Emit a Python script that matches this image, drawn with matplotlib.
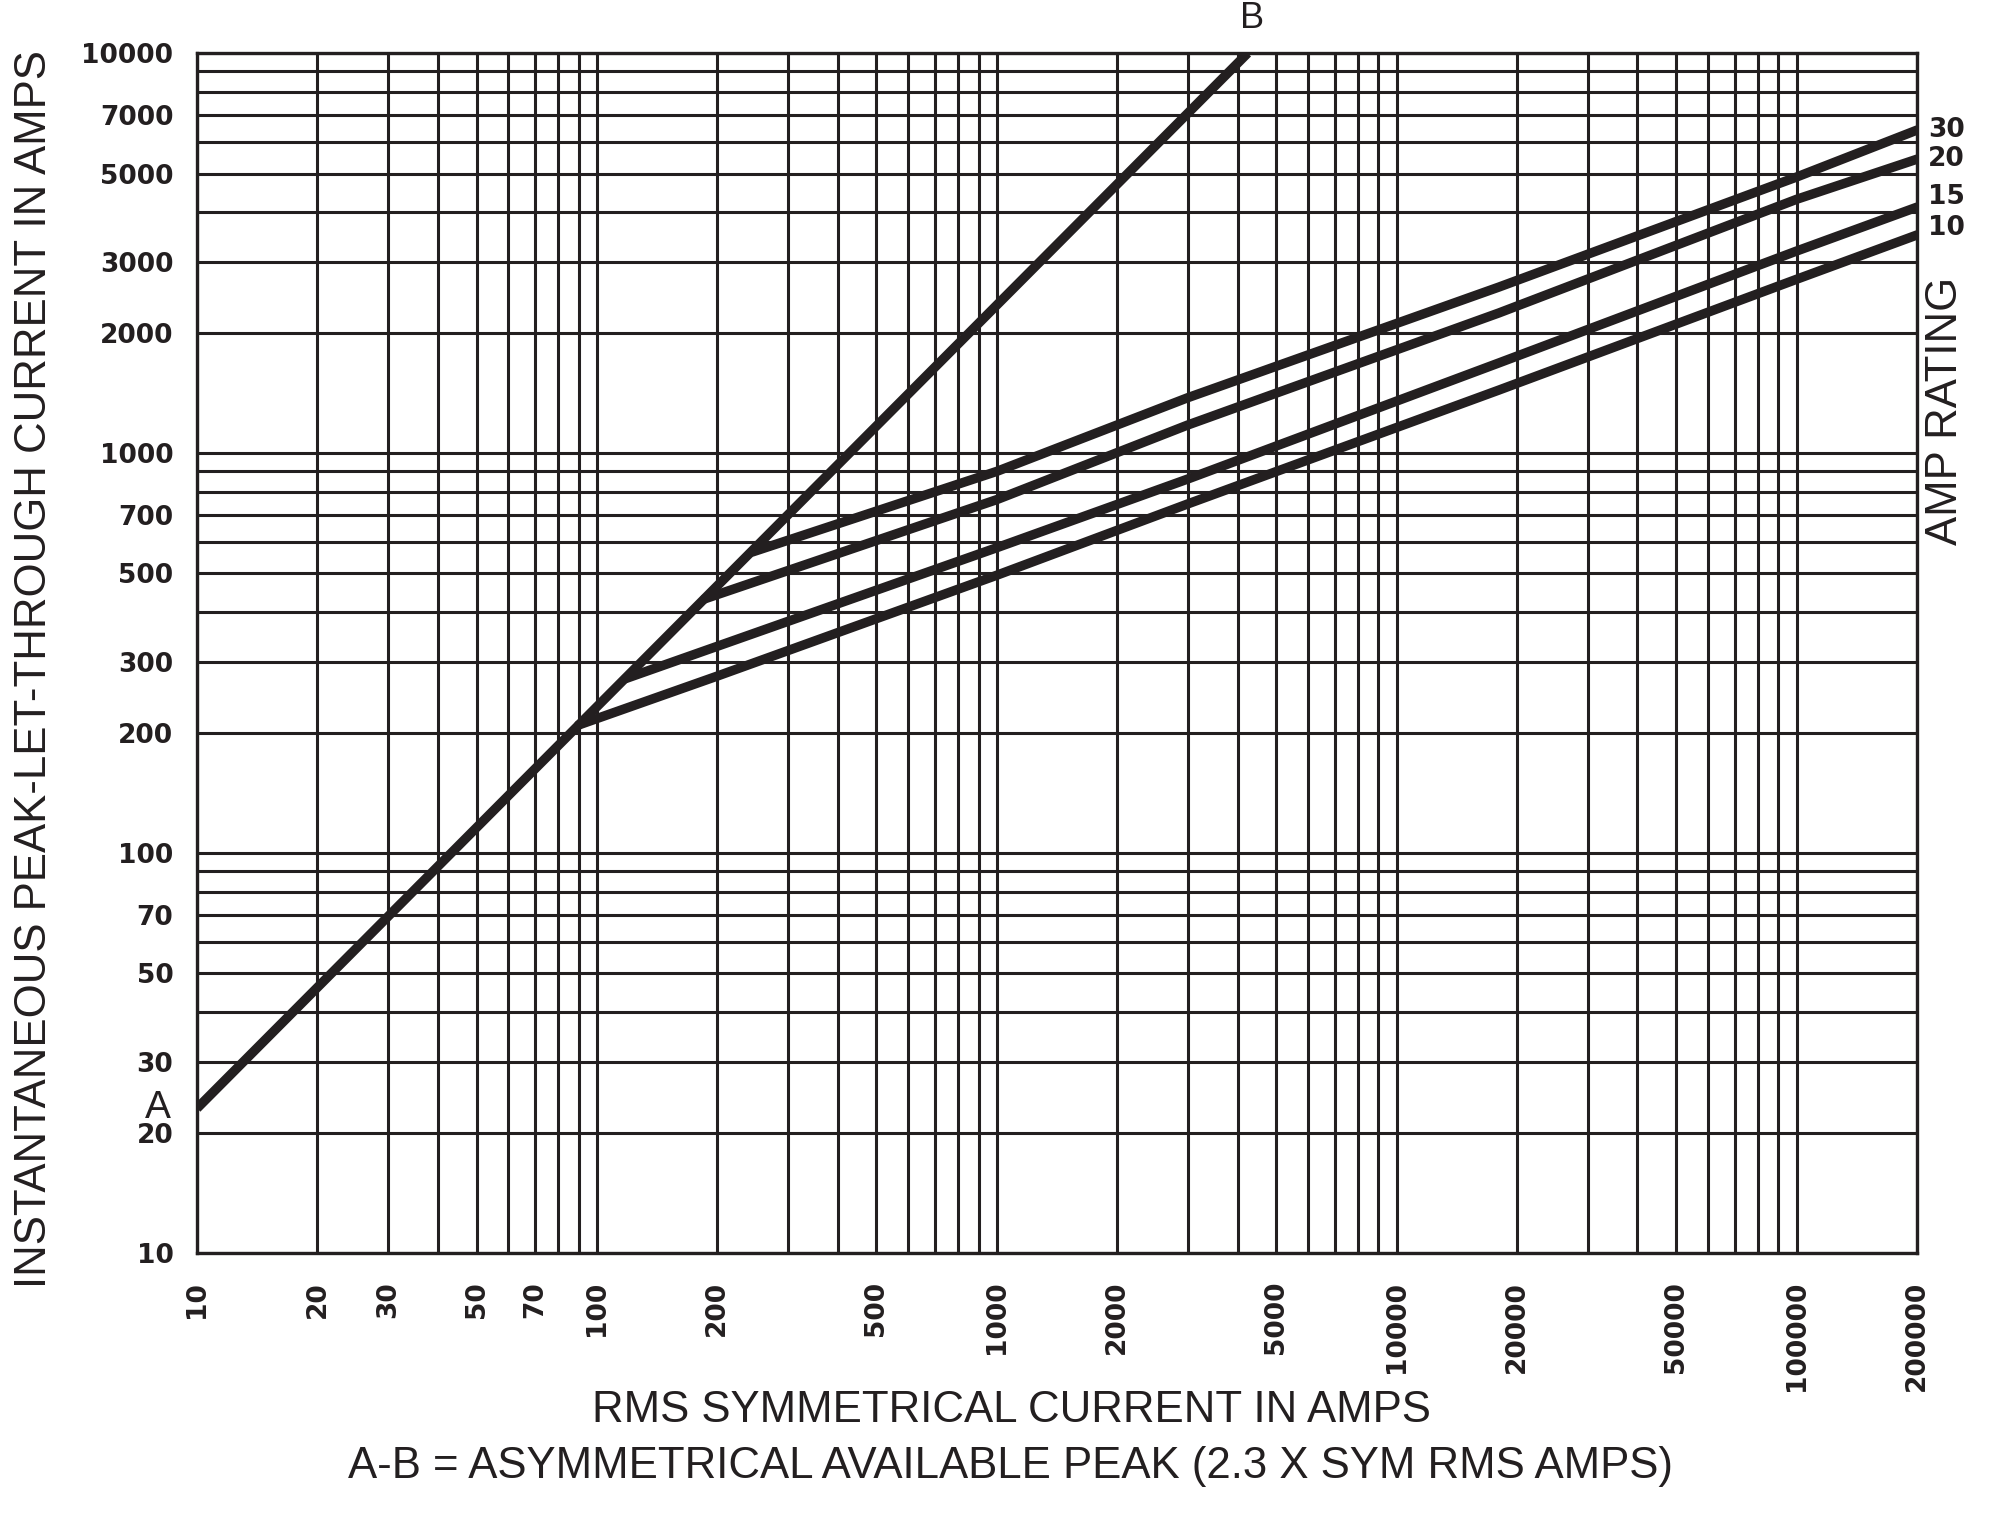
import numpy as np
import matplotlib
matplotlib.use('Agg')
import matplotlib.pyplot as plt
from matplotlib.ticker import FixedLocator, LogLocator, NullFormatter

# line A-B (asymmetrical available peak)
rms_ab = [10, 4240]
peak_ab = [23, 10000]

# let-through curves
rms_10 = [90, 200, 1000, 3000, 18000, 100000, 200000]
peak_10 = [209, 277, 495, 746, 1437, 2720, 3510]

rms_15 = [118, 1000, 3000, 18000, 100000, 200000]
peak_15 = [273, 580, 861, 1680, 3200, 4120]

rms_20 = [186, 1000, 3000, 18000, 100000, 200000]
peak_20 = [432, 765, 1175, 2240, 4310, 5430]

rms_30 = [245, 1000, 3000, 18000, 100000, 200000]
peak_30 = [566, 900, 1375, 2600, 4900, 6420]

ratings = ['10', '15', '20', '30']

x_ticks = [10, 20, 30, 50, 70, 100, 200, 500, 1000, 2000, 5000,
           10000, 20000, 50000, 100000, 200000]
y_ticks = [10, 20, 30, 50, 70, 100, 200, 300, 500, 700, 1000, 2000,
           3000, 5000, 7000, 10000]

ink = '#231f20'
txt_font = 'Liberation Sans'

fig = plt.figure(figsize=(20, 15.17), dpi=100)
ax = fig.add_axes([0.0985, 0.174, 0.86, 0.791])
ax.set_xscale('log')
ax.set_yscale('log')
ax.set_xlim(10, 200000)
ax.set_ylim(10, 10000)

ax.xaxis.set_major_locator(FixedLocator(x_ticks))
ax.yaxis.set_major_locator(FixedLocator(y_ticks))
ax.xaxis.set_minor_locator(LogLocator(base=10, subs=np.arange(2, 10)))
ax.yaxis.set_minor_locator(LogLocator(base=10, subs=np.arange(2, 10)))
ax.xaxis.set_minor_formatter(NullFormatter())
ax.yaxis.set_minor_formatter(NullFormatter())
ax.set_xticklabels([str(v) for v in x_ticks], rotation=90, va='top', ha='center',
                   fontsize=19, family='DejaVu Sans', fontweight='bold', color=ink)
ax.set_yticklabels([str(v) for v in y_ticks], fontsize=19, family='DejaVu Sans',
                   fontweight='bold', color=ink)
ax.tick_params(which='both', length=0)
ax.tick_params(axis='x', pad=20)
ax.tick_params(axis='y', pad=17)
ax.grid(which='both', color=ink, lw=2.2)
ax.set_axisbelow(True)
for s in ax.spines.values():
    s.set_color(ink)
    s.set_linewidth(2.4)

# A-B line
ax.plot(rms_ab, peak_ab, color=ink, lw=6.8, solid_capstyle='butt')

curves = [(rms_10, peak_10), (rms_15, peak_15), (rms_20, peak_20), (rms_30, peak_30)]
label_dy = [5, 7, 0, 0]
for (xs, ys), name, dy in zip(curves, ratings, label_dy):
    ax.plot(xs, ys, color=ink, lw=6.8, solid_capstyle='round', solid_joinstyle='round')
    ax.annotate(name, (xs[-1], ys[-1]), xytext=(8, dy), textcoords='offset points',
                ha='left', va='center', fontsize=19, family='DejaVu Sans',
                fontweight='bold', color=ink, annotation_clip=False)

ax.annotate('A', (rms_ab[0], peak_ab[0]), xytext=(-28, 0), textcoords='offset points',
            ha='center', va='center', fontsize=28, family=txt_font, color=ink,
            annotation_clip=False)
ax.annotate('B', (rms_ab[-1], peak_ab[-1]), xytext=(3, 25), textcoords='offset points',
            ha='center', va='center', fontsize=26, family=txt_font, color=ink,
            annotation_clip=False)

ax.text(1.0163, 0.7017, 'AMP RATING', transform=ax.transAxes, rotation=90,
        ha='center', va='center', fontsize=31.5, family=txt_font, color=ink)

fig.text(35 / 2000, 0.559, 'INSTANTANEOUS PEAK-LET-THROUGH CURRENT IN AMPS',
         rotation=90, ha='center', va='center', fontsize=31.5, family=txt_font, color=ink)
fig.text(0.5055, 0.0705, 'RMS SYMMETRICAL CURRENT IN AMPS', ha='center',
         va='center', fontsize=31.5, family=txt_font, color=ink)
fig.text(0.5055, 0.0336, 'A-B = ASYMMETRICAL AVAILABLE PEAK (2.3 X SYM RMS AMPS)',
         ha='center', va='center', fontsize=31.5, family=txt_font, color=ink)

fig.savefig('out.png', dpi=100, facecolor='white')
